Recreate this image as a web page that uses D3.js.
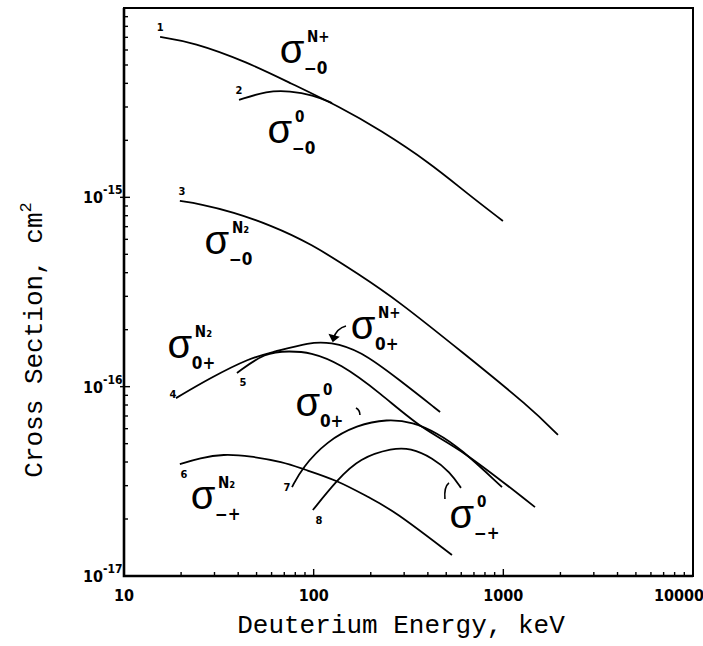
<!DOCTYPE html>
<html>
<head>
<meta charset="utf-8">
<script src="https://cdn.jsdelivr.net/npm/d3@7/dist/d3.min.js"></script>
<style>
  body { margin: 0; background: #fff; }
</style>
</head>
<body>
<div id="container"></div>
<script>
// curve data, energy in keV, cross section in cm^2
var energy1 = [15.5, 23.1, 44.5, 75, 137.6, 224, 410, 643, 995];
var sigma1  = [7.03e-15, 6.6e-15, 5.19e-15, 4.02e-15, 3.0e-15, 2.27e-15, 1.52e-15, 1.05e-15, 7.5e-16];

var energy2 = [40.4, 56.7, 75, 99, 125];
var sigma2  = [3.27e-15, 3.65e-15, 3.65e-15, 3.47e-15, 3.15e-15];

var energy3 = [19.7, 25.2, 37.6, 58.9, 95.7, 175, 275, 613, 1382, 1941];
var sigma3  = [9.57e-16, 9.22e-16, 8.37e-16, 7.14e-16, 5.74e-16, 3.89e-16, 2.87e-16, 1.51e-16, 7.8e-17, 5.56e-17];

var energy4 = [18.8, 28.4, 46.2, 61, 95.7, 122, 175, 285, 464];
var sigma4  = [8.7e-17, 1.11e-16, 1.42e-16, 1.52e-16, 1.72e-16, 1.72e-16, 1.56e-16, 1.08e-16, 7.35e-17];

var energy5 = [39.4, 55.4, 75, 95.7, 137.6, 224, 377, 591, 1469];
var sigma5  = [1.18e-16, 1.52e-16, 1.54e-16, 1.52e-16, 1.33e-16, 9.27e-17, 5.9e-17, 4.74e-17, 2.31e-17];

var energy6 = [19.7, 25.2, 33.3, 46.2, 68.9, 87.9, 132.7, 198, 262, 536];
var sigma6  = [3.9e-17, 4.2e-17, 4.41e-17, 4.3e-17, 4.0e-17, 3.67e-17, 3.21e-17, 2.58e-17, 2.23e-17, 1.29e-17];

var energy7 = [76.9, 86.8, 117.5, 169, 244, 334, 447, 591, 984];
var sigma7  = [2.95e-17, 3.72e-17, 5.16e-17, 6.27e-17, 6.75e-17, 6.5e-17, 5.69e-17, 4.74e-17, 2.95e-17];

var energy8 = [99, 132.7, 175, 262, 322, 426, 523, 598];
var sigma8  = [2.23e-17, 3.21e-17, 4.2e-17, 4.74e-17, 4.74e-17, 4.2e-17, 3.54e-17, 2.92e-17];

var curveNames = ["1", "2", "3", "4", "5", "6", "7", "8"];

// sigma annotations (position in data units)
var noteEnergy = [76.9, 66.4, 30.9, 19.7, 182, 93.3, 26.1, 605];
var noteSigma  = [5.86e-15, 2.21e-15, 5.74e-16, 1.62e-16, 2.04e-16, 8.0e-17, 2.58e-17, 2.05e-17];
var noteSup    = ["N+", "0", "N\u2082", "N\u2082", "N+", "0", "N\u2082", "0"];
var noteSub    = ["\u22120", "\u22120", "\u22120", "0+", "0+", "0+", "\u2212+", "\u2212+"];

var xTickLabels = ["10", "100", "1000", "10000"];
var yTickLabels = ["-17", "-16", "-15"];

var width = 703,
    height = 646;

var svg = d3.select("#container").append("svg")
  .attr("width", width)
  .attr("height", height);

var x = d3.scaleLog().domain([10, 10000]).range([124, 693]);
var y = d3.scaleLog().domain([1e-17, 1e-14]).range([576, 8]);

var tickFont = "'Liberation Sans Narrow', 'DejaVu Sans Condensed', Arial, sans-serif";

var curves = [
  [energy1, sigma1], [energy2, sigma2], [energy3, sigma3], [energy4, sigma4],
  [energy5, sigma5], [energy6, sigma6], [energy7, sigma7], [energy8, sigma8]
].map(function(c, i) {
  return { name: curveNames[i], pts: c[0].map(function(e, j) { return [e, c[1][j]]; }) };
});

var line = d3.line()
  .x(function(d) { return x(d[0]); })
  .y(function(d) { return y(d[1]); })
  .curve(d3.curveBasis);

// minor ticks, drawn inside the frame
var xMinor = [], yMinor = [];
[10, 100, 1000].forEach(function(b) {
  for (var k = 2; k <= 9; k++) xMinor.push(b * k);
});
[1e-17, 1e-16, 1e-15].forEach(function(b) {
  for (var k = 2; k <= 9; k++) yMinor.push(b * k);
});

var ticks = svg.append("g").attr("stroke", "#000").attr("stroke-width", 1.4);
ticks.selectAll(".xm").data(xMinor).enter().append("line")
  .attr("x1", function(d) { return x(d); }).attr("x2", function(d) { return x(d); })
  .attr("y1", 576).attr("y2", 572);
ticks.selectAll(".xM").data([100, 1000]).enter().append("line")
  .attr("x1", function(d) { return x(d); }).attr("x2", function(d) { return x(d); })
  .attr("y1", 576).attr("y2", 569);
ticks.selectAll(".ym").data(yMinor).enter().append("line")
  .attr("y1", function(d) { return y(d); }).attr("y2", function(d) { return y(d); })
  .attr("x1", 124).attr("x2", 128);
ticks.selectAll(".yM").data([1e-16, 1e-15]).enter().append("line")
  .attr("y1", function(d) { return y(d); }).attr("y2", function(d) { return y(d); })
  .attr("x1", 120).attr("x2", 130);

// frame
svg.append("rect")
  .attr("x", 124).attr("y", 8)
  .attr("width", 569).attr("height", 568)
  .attr("fill", "none").attr("stroke", "#000").attr("stroke-width", 2);
svg.append("path")
  .attr("d", "M124,8V576H693")
  .attr("fill", "none").attr("stroke", "#000").attr("stroke-width", 2.6);

// curves
svg.append("g").selectAll("path").data(curves).enter().append("path")
  .attr("d", function(d) { return line(d.pts); })
  .attr("fill", "none")
  .attr("stroke", "#000")
  .attr("stroke-width", 1.8);

// curve numbers near the start of each curve
var numOffset = [[0, -6], [0, -6], [2, -6], [-3, 0], [6, 13], [4, 14], [-5, 4], [6, 14]];
svg.append("g").selectAll("text").data(curves).enter().append("text")
  .attr("x", function(d, i) { return x(d.pts[0][0]) + numOffset[i][0]; })
  .attr("y", function(d, i) { return y(d.pts[0][1]) + numOffset[i][1]; })
  .attr("text-anchor", "middle")
  .style("font-family", tickFont)
  .style("font-weight", "bold")
  .style("font-size", "11px")
  .text(function(d) { return d.name; });

// sigma annotations
var notes = svg.append("g").selectAll("g").data(noteEnergy).enter().append("g")
  .attr("transform", function(d, i) { return "translate(" + x(d) + "," + y(noteSigma[i]) + ")"; });
notes.append("text")
  .attr("x", 0).attr("y", 11)
  .attr("text-anchor", "middle")
  .style("font-family", "'Liberation Sans', Arial, sans-serif")
  .style("font-size", "40px")
  .text("\u03c3");
notes.append("text")
  .attr("x", 15).attr("y", -10)
  .style("font-family", tickFont)
  .style("font-weight", "bold")
  .style("font-size", "15px")
  .text(function(d, i) { return noteSup[i]; });
notes.append("text")
  .attr("x", 12).attr("y", 22)
  .style("font-family", tickFont)
  .style("font-weight", "bold")
  .style("font-size", "17px")
  .text(function(d, i) { return noteSub[i]; });

// little pointer marks next to some annotations
var marks = svg.append("g").attr("fill", "none").attr("stroke", "#000").attr("stroke-width", 1.6);
marks.append("path")
  .attr("transform", "translate(" + x(noteEnergy[4]) + "," + y(noteSigma[4]) + ")")
  .attr("d", "M-17,-2Q-26,0-30,11");
marks.append("path")
  .attr("transform", "translate(" + x(noteEnergy[4]) + "," + y(noteSigma[4]) + ")")
  .attr("d", "M-33,7L-30,13L-25,9Z").attr("fill", "#000");
marks.append("path")
  .attr("transform", "translate(" + x(noteEnergy[5]) + "," + y(noteSigma[5]) + ")")
  .attr("d", "M48,3Q52,5 52,10");
marks.append("path")
  .attr("transform", "translate(" + x(noteEnergy[7]) + "," + y(noteSigma[7]) + ")")
  .attr("d", "M-13,-34Q-18,-30-17,-18");

// tick labels
svg.append("g").selectAll("text").data(xTickLabels).enter().append("text")
  .attr("x", function(d, i) { return i === 3 ? x(+d) - 14 : x(+d); })
  .attr("y", 601)
  .attr("text-anchor", "middle")
  .style("font-family", tickFont)
  .style("font-weight", "bold")
  .style("font-size", "16px")
  .text(function(d) { return d; });

var yl = svg.append("g").selectAll("text").data(yTickLabels).enter().append("text")
  .attr("x", 83)
  .attr("y", function(d) { return y(Math.pow(10, +d)) + 6; })
  .style("font-family", tickFont)
  .style("font-weight", "bold")
  .style("font-size", "16px");
yl.append("tspan").text("10");
yl.append("tspan").attr("dy", -9).style("font-size", "12px").text(function(d) { return d; });

// axis titles
svg.append("text")
  .attr("x", 401).attr("y", 633)
  .attr("text-anchor", "middle")
  .style("font-family", "'Courier New', 'Liberation Mono', monospace")
  .style("font-size", "26px")
  .text("Deuterium Energy, keV");

var yt = svg.append("text")
  .attr("transform", "translate(42,340) rotate(-90)")
  .attr("text-anchor", "middle")
  .style("font-family", "'Courier New', 'Liberation Mono', monospace")
  .style("font-size", "26px");
yt.append("tspan").text("Cross Section, cm");
yt.append("tspan").attr("dy", -11).style("font-size", "17px").text("2");
</script>
</body>
</html>
